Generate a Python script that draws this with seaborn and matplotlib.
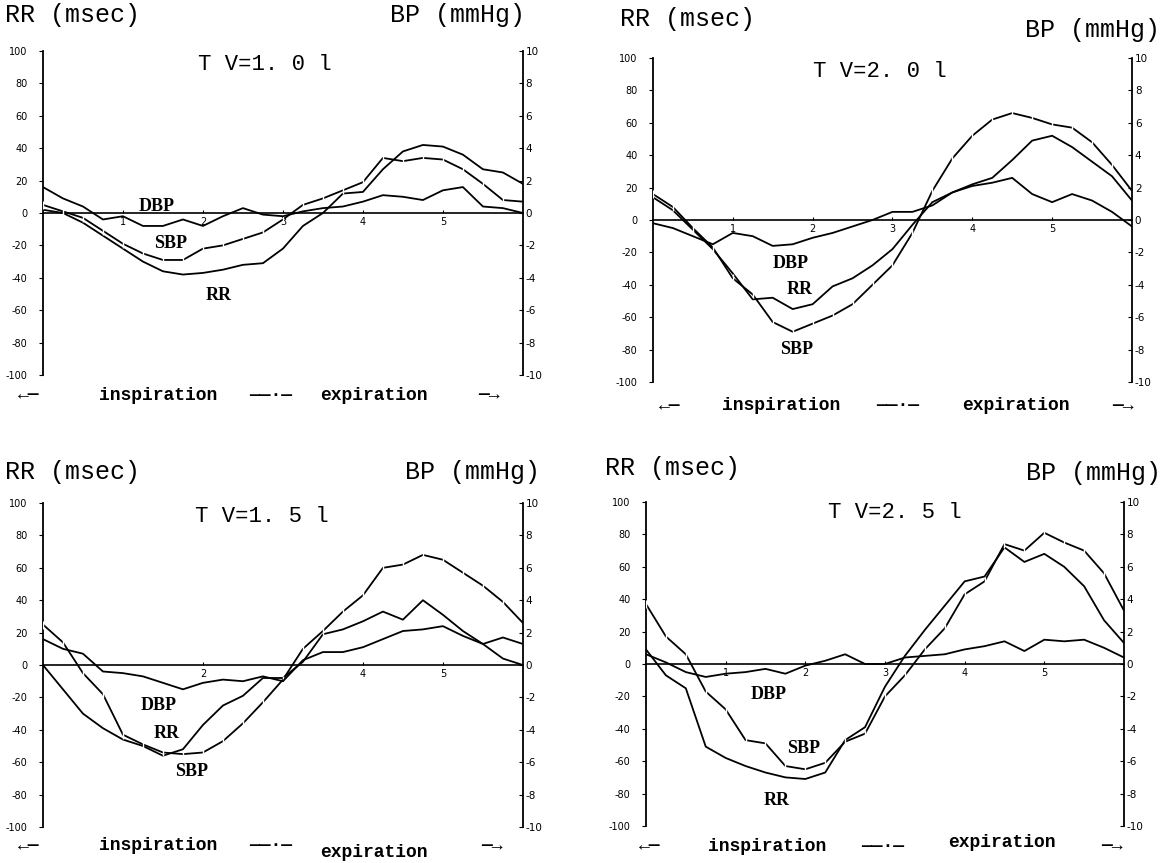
import matplotlib
matplotlib.use("Agg")
import matplotlib.pyplot as plt
import pandas as pd
import seaborn as sns

# ---------------- data ----------------
TIME = [0.0, 0.25, 0.5, 0.75, 1.0, 1.25, 1.5, 1.75, 2.0, 2.25, 2.5, 2.75, 3.0,
        3.25, 3.5, 3.75, 4.0, 4.25, 4.5, 4.75, 5.0, 5.25, 5.5, 5.75, 6.0]

# TV = 1.0 l   (RR in msec, BP in mmHg)
RR_10 = [2, 0, -6, -14, -22, -30, -36, -38, -37, -35, -32, -31, -22,
         -8, 0, 12, 13, 27, 38, 42, 41, 36, 27, 25, 18]
SBP_10 = [0.5, 0.1, -0.3, -1.1, -1.9, -2.5, -2.9, -2.9, -2.2, -2.0, -1.6, -1.2, -0.4,
          0.5, 0.9, 1.4, 1.9, 3.4, 3.2, 3.4, 3.3, 2.7, 1.8, 0.8, 0.7]
DBP_10 = [1.6, 0.9, 0.4, -0.4, -0.2, -0.8, -0.8, -0.4, -0.8, -0.2, 0.3, -0.1, -0.2,
          0.1, 0.3, 0.4, 0.7, 1.1, 1.0, 0.8, 1.4, 1.6, 0.4, 0.3, 0.0]

# TV = 2.0 l
RR_20 = [14, 6, -6, -18, -33, -49, -48, -55, -52, -41, -36, -28, -18,
         -3, 11, 17, 22, 26, 37, 49, 52, 45, 36, 27, 12]
SBP_20 = [1.6, 0.8, -0.5, -1.7, -3.6, -4.6, -6.3, -6.9, -6.4, -5.9, -5.2, -4.0, -2.8,
          -0.8, 1.8, 3.8, 5.2, 6.2, 6.6, 6.3, 5.9, 5.7, 4.8, 3.4, 1.8]
DBP_20 = [-0.2, -0.5, -1.0, -1.5, -0.8, -1.0, -1.6, -1.5, -1.1, -0.8, -0.4, 0.0, 0.5,
          0.5, 0.9, 1.7, 2.1, 2.3, 2.6, 1.6, 1.1, 1.6, 1.2, 0.5, -0.4]

# TV = 1.5 l
RR_15 = [0, -15, -30, -39, -46, -50, -56, -52, -37, -25, -19, -8, -8,
         2, 19, 22, 27, 33, 28, 40, 31, 21, 13, 4, 0]
SBP_15 = [2.5, 1.4, -0.5, -1.8, -4.3, -4.9, -5.4, -5.5, -5.4, -4.7, -3.6, -2.3, -0.9,
          1.0, 2.1, 3.3, 4.3, 6.0, 6.2, 6.8, 6.5, 5.7, 4.9, 3.9, 2.6]
DBP_15 = [1.6, 1.0, 0.7, -0.4, -0.5, -0.7, -1.1, -1.5, -1.1, -0.9, -1.0, -0.7, -1.0,
          0.3, 0.8, 0.8, 1.1, 1.6, 2.1, 2.2, 2.4, 1.8, 1.3, 1.7, 1.3]

# TV = 2.5 l
RR_25 = [9, -7, -15, -51, -58, -63, -67, -70, -71, -67, -47, -39, -14,
         5, 21, 36, 51, 54, 72, 63, 68, 60, 48, 27, 13]
SBP_25 = [3.7, 1.7, 0.6, -1.7, -2.8, -4.7, -4.9, -6.3, -6.5, -6.1, -4.8, -4.3, -2.0,
          -0.7, 0.9, 2.2, 4.3, 5.1, 7.4, 7.0, 8.1, 7.5, 7.0, 5.6, 3.3]
DBP_25 = [0.6, 0.1, -0.5, -0.8, -0.6, -0.5, -0.3, -0.6, -0.1, 0.2, 0.6, 0.0, 0.0,
          0.4, 0.5, 0.6, 0.9, 1.1, 1.4, 0.8, 1.5, 1.4, 1.5, 1.0, 0.4]

RR_TICKS = [-100, -80, -60, -40, -20, 0, 20, 40, 60, 80, 100]
BP_TICKS = [-10, -8, -6, -4, -2, 0, 2, 4, 6, 8, 10]
TITLES = ["T V=1. 0 l", "T V=2. 0 l", "T V=1. 5 l", "T V=2. 5 l"]
LEFT_TITLE = "RR (msec)"
RIGHT_TITLE = "BP (mmHg)"
PHASES = ["inspiration", "expiration"]

# ---------------- style ----------------
sns.set_theme(style="white")
plt.rcParams['font.family'] = ['DejaVu Sans']
MONO = ['Liberation Mono', 'DejaVu Sans Mono']
SERIF = ['Liberation Serif', 'DejaVu Serif']
NARROW = ['Liberation Sans Narrow', 'DejaVu Sans']

fig = plt.figure(figsize=(11.61, 8.63), dpi=100)
fig.patch.set_facecolor('white')

panels = [
    dict(rect=[0.037, 0.5655, 0.4134, 0.3754], rr=RR_10, sbp=SBP_10, dbp=DBP_10,
         title=TITLES[0], title_xy=(0.4625, 0.957),
         lt=(-0.079, 1.11), rt=(1.004, 1.11),
         bottom=[(-0.03, -0.062), (0.24, -0.062), (0.475, -0.062), (0.69, -0.062), (0.93, -0.062)],
         labels=[("DBP", 1.42, -1, 'bottom'), ("SBP", 1.59, -19, 'center'), ("RR", 2.2, -51, 'center')],
         xt=[1, 2, 3, 4, 5]),
    dict(rect=[0.5624, 0.5574, 0.4126, 0.3754], rr=RR_20, sbp=SBP_20, dbp=DBP_20,
         title=TITLES[1], title_xy=(0.474, 0.957),
         lt=(-0.069, 1.12), rt=(1.058, 1.086),
         bottom=[(0.035, -0.074), (0.267, -0.074), (0.51, -0.074), (0.758, -0.074), (0.98, -0.074)],
         labels=[("DBP", 1.72, -27, 'center'), ("RR", 1.84, -43, 'center'), ("SBP", 1.8, -80, 'center')],
         xt=[1, 2, 3, 4, 5]),
    dict(rect=[0.037, 0.0417, 0.4134, 0.3754], rr=RR_15, sbp=SBP_15, dbp=DBP_15,
         title=TITLES[2], title_xy=(0.456, 0.957),
         lt=(-0.079, 1.096), rt=(1.035, 1.096),
         bottom=[(-0.03, -0.058), (0.24, -0.058), (0.475, -0.058), (0.69, -0.078), (0.935, -0.058)],
         labels=[("DBP", 1.44, -25, 'center'), ("RR", 1.55, -42, 'center'), ("SBP", 1.86, -66, 'center')],
         xt=[2, 4, 5]),
    dict(rect=[0.5564, 0.0429, 0.4117, 0.3754], rr=RR_25, sbp=SBP_25, dbp=DBP_25,
         title=TITLES[3], title_xy=(0.52, 0.969),
         lt=(-0.086, 1.105), rt=(1.077, 1.09),
         bottom=[(0.008, -0.062), (0.253, -0.062), (0.496, -0.062), (0.745, -0.05), (0.975, -0.062)],
         labels=[("DBP", 1.54, -19, 'center'), ("SBP", 1.98, -52, 'center'), ("RR", 1.64, -84, 'center')],
         xt=[1, 2, 3, 4, 5]),
]

for p in panels:
    df = pd.DataFrame({'t': TIME, 'RR': p['rr'], 'SBP': p['sbp'], 'DBP': p['dbp']})
    ax = fig.add_axes(p['rect'])
    ax.set_facecolor('none')
    ax2 = ax.twinx()
    ax2.set_facecolor('none')

    sns.lineplot(data=df, x='t', y='RR', ax=ax, color='black', lw=1.3)
    sns.lineplot(data=df, x='t', y='SBP', ax=ax2, color='black', lw=1.3,
                 marker='|', markersize=6, markeredgewidth=1.0)
    sns.lineplot(data=df, x='t', y='DBP', ax=ax2, color='black', lw=1.3)

    ax.set_xlim(0, 6)
    ax.set_ylim(-100, 100)
    ax2.set_ylim(-10, 10)
    for a in (ax, ax2):
        a.set_xlabel('')
        a.set_ylabel('')
        a.grid(False)

    # spines
    ax.spines['top'].set_visible(False)
    ax.spines['right'].set_visible(False)
    ax.spines['left'].set_linewidth(1.3)
    ax.spines['left'].set_color('black')
    ax.spines['bottom'].set_position(('data', 0))
    ax.spines['bottom'].set_linewidth(1.2)
    ax.spines['bottom'].set_color('black')
    for s in ('top', 'left', 'bottom'):
        ax2.spines[s].set_visible(False)
    ax2.spines['right'].set_linewidth(1.3)
    ax2.spines['right'].set_color('black')

    ax.set_yticks(RR_TICKS)
    ax.set_yticklabels([str(v) for v in RR_TICKS], fontfamily=NARROW, fontsize=7)
    ax2.set_yticks(BP_TICKS)
    ax2.set_yticklabels([str(v) for v in BP_TICKS], fontfamily=NARROW, fontsize=7.5)
    ax.tick_params(axis='y', direction='out', length=3, width=0.8, colors='black', pad=8, left=True)
    ax2.tick_params(axis='y', direction='in', length=3, width=0.8, colors='black', pad=2, right=True)
    ax.set_xticks(p['xt'])
    ax.set_xticklabels([str(v) for v in p['xt']], fontfamily=NARROW, fontsize=7)
    ax.tick_params(axis='x', direction='in', length=2, width=0.8, colors='black', pad=3, bottom=True)

    # header texts
    ax.text(p['lt'][0], p['lt'][1], LEFT_TITLE, transform=ax.transAxes, ha='left', va='center',
            fontfamily=MONO, fontsize=18, color='black')
    ax.text(p['rt'][0], p['rt'][1], RIGHT_TITLE, transform=ax.transAxes, ha='right', va='center',
            fontfamily=MONO, fontsize=18, color='black')
    ax.text(p['title_xy'][0], p['title_xy'][1], p['title'], transform=ax.transAxes,
            ha='center', va='center', fontfamily=MONO, fontsize=16, color='black')

    # curve labels
    for name, tx, ty, va in p['labels']:
        ax.text(tx, ty, name, ha='center', va=va, fontfamily=SERIF, fontsize=13,
                fontweight='bold', color='black')

    # phase row below the panel
    b = p['bottom']
    row = ["\u2190\u2014", PHASES[0], "\u2014\u2014\u00b7\u2014", PHASES[1], "\u2014\u2192"]
    for (bx, by), s in zip(b, row):
        ax.text(bx, by, s, transform=ax.transAxes, ha='center', va='center',
                fontfamily=MONO, fontsize=13, fontweight='bold', color='black', clip_on=False)

fig.savefig('out.png', dpi=100, facecolor='white')
